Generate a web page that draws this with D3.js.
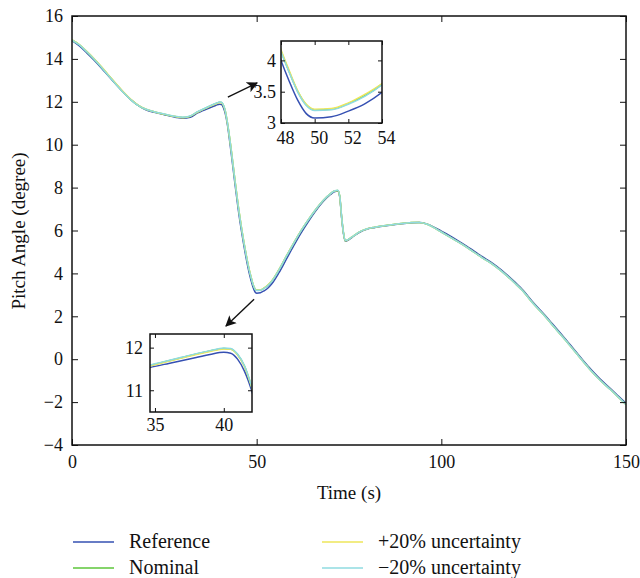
<!DOCTYPE html>
<html>
<head>
<meta charset="utf-8">
<script src="https://cdn.jsdelivr.net/npm/d3@7/dist/d3.min.js"></script>
<style>
  html, body { margin: 0; padding: 0; background: #fff; }
  svg { display: block; font-family: "Liberation Serif", "Times New Roman", serif; }
</style>
</head>
<body>
<svg id="chart" width="640" height="578"></svg>
<script>
// Pitch angle response, time in seconds
const time = [0,2,4,6,8,10,12,14,16,18,
  20,22,25,28,30,32,34,35,36,37,
  38,39,40,40.5,41,41.5,42,43,44,45,
  46,47,48,48.5,49,49.5,50,51,52,53,
  54,56,58,60,62,64,66,68,70,71,
  72,72.5,73,73.5,74,75,76,78,80,82,
  85,88,90,92,94,96,98,100,102,105,
  108,110,112,115,118,120,122,125,128,130,
  133,136,140,143,146,148,150];

const reference = [14.85,14.60,14.28,13.94,13.57,13.18,12.80,12.43,12.09,11.82,
  11.63,11.52,11.40,11.28,11.23,11.28,11.48,11.56,11.63,11.70,
  11.77,11.84,11.89,11.87,11.73,11.45,11.02,9.75,8.35,7.00,
  5.85,4.85,4.00,3.66,3.36,3.15,3.08,3.10,3.19,3.31,
  3.49,4.02,4.65,5.28,5.88,6.42,6.92,7.35,7.68,7.80,
  7.84,7.55,6.60,5.85,5.50,5.58,5.70,5.93,6.07,6.14,
  6.22,6.29,6.33,6.36,6.37,6.31,6.16,5.97,5.78,5.47,
  5.14,4.90,4.68,4.33,3.90,3.58,3.24,2.62,2.06,1.66,
  1.06,0.44,-0.38,-0.93,-1.40,-1.73,-2.06];

const nominal = [14.88,14.66,14.34,13.99,13.61,13.21,12.81,12.43,12.09,11.82,
  11.65,11.55,11.42,11.31,11.27,11.33,11.53,11.61,11.69,11.77,
  11.85,11.92,11.98,11.97,11.84,11.57,11.11,9.91,8.51,7.16,
  6.01,5.01,4.15,3.81,3.50,3.29,3.21,3.22,3.31,3.44,
  3.62,4.16,4.79,5.40,5.98,6.50,6.98,7.40,7.72,7.84,
  7.87,7.59,6.64,5.90,5.52,5.60,5.72,5.95,6.08,6.15,
  6.23,6.30,6.34,6.37,6.37,6.30,6.13,5.93,5.73,5.42,
  5.09,4.85,4.63,4.28,3.85,3.53,3.19,2.57,2.01,1.61,
  1.01,0.39,-0.43,-0.98,-1.45,-1.78,-2.11];

const plus20 = [14.89,14.67,14.35,14.01,13.63,13.23,12.83,12.45,12.10,11.83,
  11.65,11.55,11.42,11.31,11.26,11.32,11.52,11.60,11.68,11.76,
  11.84,11.91,11.97,11.96,11.83,11.56,11.10,9.92,8.53,7.18,
  6.03,5.03,4.17,3.83,3.51,3.30,3.22,3.23,3.32,3.46,
  3.63,4.17,4.80,5.41,5.99,6.51,6.98,7.40,7.72,7.84,
  7.87,7.58,6.63,5.89,5.52,5.60,5.72,5.95,6.08,6.15,
  6.23,6.30,6.34,6.37,6.37,6.30,6.13,5.93,5.73,5.42,
  5.09,4.85,4.63,4.28,3.85,3.53,3.19,2.57,2.01,1.61,
  1.01,0.39,-0.43,-0.98,-1.45,-1.78,-2.11];

const minus20 = [14.88,14.65,14.33,13.98,13.60,13.20,12.80,12.42,12.08,11.82,
  11.65,11.55,11.43,11.32,11.28,11.34,11.54,11.62,11.70,11.78,
  11.86,11.93,11.99,11.98,11.85,11.58,11.12,9.90,8.50,7.15,
  6.00,5.00,4.14,3.80,3.49,3.28,3.20,3.21,3.30,3.43,
  3.61,4.15,4.78,5.40,5.98,6.50,6.98,7.40,7.72,7.84,
  7.88,7.60,6.65,5.90,5.53,5.60,5.72,5.95,6.08,6.15,
  6.23,6.30,6.34,6.37,6.37,6.30,6.13,5.93,5.73,5.42,
  5.09,4.85,4.63,4.28,3.85,3.53,3.19,2.57,2.01,1.61,
  1.01,0.39,-0.43,-0.98,-1.45,-1.78,-2.11];

const seriesNames = ["Reference", "Nominal", "+20% uncertainty", "\u221220% uncertainty"];
const seriesColors = ["#3550b2", "#5cc63a", "#eee65a", "#8fdbe0"];

const xTicks = [0, 50, 100, 150];
const yTicks = [-4, -2, 0, 2, 4, 6, 8, 10, 12, 14, 16];
const zoomAXTicks = [48, 50, 52, 54];
const zoomAYTicks = [3, 3.5, 4];
const zoomBXTicks = [35, 40];
const zoomBYTicks = [11, 12];

const seriesValues = [reference, nominal, plus20, minus20];
const series = seriesValues.map((vals, i) => ({
  name: seriesNames[i],
  color: seriesColors[i],
  points: time.map((t, j) => [t, vals[j]])
}));

const svg = d3.select("#chart");
const fmt = v => d3.format("")(v).replace("-", "\u2212");

// clipped axes box with inward ticks on all four sides
function drawPanel(cfg) {
  const { id, left, right, top, bottom, xDomain, yDomain, xt, yt, fontSize, tick,
          xLabelGap, yLabelGap, xLabelShift = 0, lw } = cfg;
  const x = d3.scaleLinear(xDomain, [left, right]);
  const y = d3.scaleLinear(yDomain, [bottom, top]);
  const g = svg.append("g");

  g.append("rect").attr("x", left).attr("y", top)
    .attr("width", right - left).attr("height", bottom - top)
    .attr("fill", "#fff");

  g.append("clipPath").attr("id", id)
    .append("rect").attr("x", left).attr("y", top)
    .attr("width", right - left).attr("height", bottom - top);

  const line = d3.line().x(d => x(d[0])).y(d => y(d[1])).curve(d3.curveMonotoneX);
  g.append("g").attr("clip-path", `url(#${id})`)
    .selectAll("path").data(series).join("path")
    .attr("d", d => line(d.points))
    .attr("fill", "none")
    .attr("stroke", d => d.color)
    .attr("stroke-width", lw)
    .attr("stroke-linejoin", "round");

  const bottomAxis = d3.axisBottom(x).tickValues(xt).tickSize(-tick).tickPadding(xLabelGap).tickFormat(fmt);
  const topAxis = d3.axisTop(x).tickValues(xt).tickSize(-tick).tickFormat("");
  const leftAxis = d3.axisLeft(y).tickValues(yt).tickSize(-tick).tickPadding(yLabelGap).tickFormat(fmt);
  const rightAxis = d3.axisRight(y).tickValues(yt).tickSize(-tick).tickFormat("");

  const axes = [
    g.append("g").attr("transform", `translate(0,${bottom})`).call(bottomAxis),
    g.append("g").attr("transform", `translate(0,${top})`).call(topAxis),
    g.append("g").attr("transform", `translate(${left},0)`).call(leftAxis),
    g.append("g").attr("transform", `translate(${right},0)`).call(rightAxis)
  ];
  axes.forEach(a => {
    a.select(".domain").remove();
    a.selectAll(".tick line").attr("stroke", "#111").attr("stroke-width", 1);
    a.selectAll(".tick text").attr("font-family", "Liberation Serif").attr("font-size", fontSize).attr("fill", "#111");
  });
  axes[0].selectAll(".tick text").attr("dx", xLabelShift);

  g.append("rect").attr("x", left).attr("y", top)
    .attr("width", right - left).attr("height", bottom - top)
    .attr("fill", "none").attr("stroke", "#111").attr("stroke-width", 1.5);

  return { x, y, g };
}

// main plot
const main = drawPanel({
  id: "clip-main", left: 72, right: 626, top: 16, bottom: 445,
  xDomain: [0, 150], yDomain: [-4, 16], xt: xTicks, yt: yTicks,
  fontSize: 18, tick: 6, xLabelGap: 10, yLabelGap: 9, lw: 1.5
});

svg.append("text").attr("x", 349).attr("y", 499)
  .attr("text-anchor", "middle").attr("font-size", 19).attr("fill", "#111")
  .text("Time (s)");
svg.append("text")
  .attr("transform", "translate(25,231) rotate(-90)")
  .attr("text-anchor", "middle").attr("font-size", 19).attr("fill", "#111")
  .text("Pitch Angle (degree)");

// arrows pointing from the curve to the magnified views
const defs = svg.append("defs");
defs.append("marker").attr("id", "head")
  .attr("viewBox", "0 0 10 10").attr("refX", 9).attr("refY", 5)
  .attr("markerWidth", 11).attr("markerHeight", 11)
  .attr("markerUnits", "userSpaceOnUse").attr("orient", "auto")
  .append("path").attr("d", "M0,0 L10,5 L0,10 L2.5,5 Z").attr("fill", "#111");

const arrows = [
  { from: [42.2, 12.22], to: [50.1, 12.88] },
  { from: [49.3, 2.8], to: [41.7, 1.55] }
];
svg.selectAll("line.arrow").data(arrows).join("line")
  .attr("class", "arrow")
  .attr("x1", d => main.x(d.from[0])).attr("y1", d => main.y(d.from[1]))
  .attr("x2", d => main.x(d.to[0])).attr("y2", d => main.y(d.to[1]))
  .attr("stroke", "#111").attr("stroke-width", 1.4)
  .attr("marker-end", "url(#head)");

// magnified view around the minimum near 50 s
drawPanel({
  id: "clip-a", left: 281, right: 382, top: 41, bottom: 123,
  xDomain: [48, 54], yDomain: [3, 4.31], xt: zoomAXTicks, yt: zoomAYTicks,
  fontSize: 18, tick: 4, xLabelGap: 8, yLabelGap: 5, xLabelShift: 4, lw: 1.5
});

// magnified view around the peak near 40 s
drawPanel({
  id: "clip-b", left: 150, right: 252, top: 334, bottom: 412,
  xDomain: [34.64, 42.05], yDomain: [10.49, 12.32], xt: zoomBXTicks, yt: zoomBYTicks,
  fontSize: 18, tick: 4, xLabelGap: 6, yLabelGap: 7, lw: 1.5
});

// legend in two columns
const legendPos = [[73, 542], [73, 568], [322, 542], [322, 568]];
const lg = svg.append("g").selectAll("g").data(series).join("g")
  .attr("transform", (d, i) => `translate(${legendPos[i][0]},${legendPos[i][1]})`);
lg.append("line").attr("x1", 0).attr("x2", 41).attr("y1", 0).attr("y2", 0)
  .attr("stroke", d => d.color).attr("stroke-width", 1.5);
lg.append("text").attr("x", 56).attr("y", 6)
  .attr("font-size", 20).attr("fill", "#111")
  .text(d => d.name);
</script>
</body>
</html>
